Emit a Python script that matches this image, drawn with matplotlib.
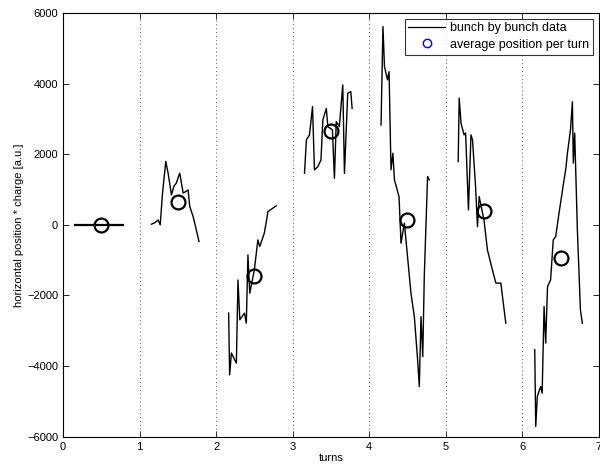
import matplotlib
matplotlib.use('Agg')
import matplotlib.pyplot as plt
from matplotlib.lines import Line2D

plt.rcParams['font.family'] = ['Liberation Sans', 'DejaVu Sans']
plt.rcParams['font.size'] = 8

# bunch by bunch data, one segment per turn
turn0_x = [0.16, 0.78]
turn0_y = [0, 0]
turn1_x = [1.156, 1.20, 1.243, 1.27, 1.30, 1.343, 1.373, 1.417, 1.45, 1.48, 1.525, 1.57, 1.634, 1.656, 1.70, 1.777]
turn1_y = [20, 60, 140, 0, 900, 1795, 1465, 850, 1100, 1180, 1465, 900, 990, 520, 235, -470]
turn2_x = [2.164, 2.177, 2.20, 2.265, 2.286, 2.31, 2.37, 2.395, 2.416, 2.44, 2.50, 2.546, 2.57, 2.63, 2.66, 2.677, 2.786]
turn2_y = [-2500, -4250, -3630, -3920, -1560, -2690, -2500, -2785, -850, -1935, -1275, -425, -615, -235, 140, 377, 540]
turn3_x = [3.155, 3.18, 3.22, 3.26, 3.285, 3.33, 3.37, 3.395, 3.44, 3.46, 3.52, 3.546, 3.57, 3.61, 3.655, 3.677, 3.72, 3.76, 3.777]
turn3_y = [1460, 2410, 2550, 3350, 1560, 1650, 1840, 2975, 3300, 2785, 2690, 1320, 2925, 2785, 3965, 1460, 3730, 3775, 3300]
turn4_x = [4.155, 4.18, 4.20, 4.24, 4.26, 4.285, 4.31, 4.33, 4.39, 4.416, 4.46, 4.546, 4.59, 4.63, 4.655, 4.677, 4.70, 4.72, 4.763, 4.785]
turn4_y = [2830, 5620, 4480, 4110, 4340, 1560, 2030, 1275, 800, -520, 50, -1935, -2600, -3730, -4580, -2600, -3730, -1460, 1370, 1275]
turn5_x = [5.163, 5.176, 5.20, 5.24, 5.26, 5.297, 5.33, 5.35, 5.39, 5.415, 5.437, 5.50, 5.545, 5.61, 5.655, 5.72, 5.785]
turn5_y = [1795, 3590, 2880, 2550, 2600, 425, 2550, 2410, 1085, -50, 800, 140, -710, -1275, -1650, -1650, -2785]
turn6_x = [6.163, 6.176, 6.197, 6.24, 6.26, 6.285, 6.306, 6.33, 6.37, 6.405, 6.437, 6.48, 6.52, 6.546, 6.57, 6.59, 6.63, 6.655, 6.667, 6.685, 6.72, 6.76, 6.785]
turn6_y = [-3540, -5710, -4860, -4580, -4770, -2310, -3350, -1750, -1560, -425, -330, 330, 900, 1275, 1605, 2030, 2690, 3490, 1750, 2600, -140, -2410, -2785]

# average position per turn
avg_x = [0.5, 1.5, 2.5, 3.5, 4.5, 5.5, 6.5]
avg_y = [0, 650, -1450, 2650, 150, 380, -950]

turn_bounds = [1, 2, 3, 4, 5, 6]

segments = [(turn0_x, turn0_y), (turn1_x, turn1_y), (turn2_x, turn2_y), (turn3_x, turn3_y),
            (turn4_x, turn4_y), (turn5_x, turn5_y), (turn6_x, turn6_y)]

fig = plt.figure(figsize=(6, 4.68), dpi=100)
ax = fig.add_axes([0.105, 0.067, 0.893, 0.905])

for i, (sx, sy) in enumerate(segments):
    lw = 1.6 if i == 0 else 1.0
    ax.plot(sx, sy, color='black', linewidth=lw)

ax.plot(avg_x, avg_y, linestyle='none', marker='o', markersize=10,
        markerfacecolor='none', markeredgecolor='black', markeredgewidth=1.6)

for b in turn_bounds:
    ax.axvline(b, color='#555555', linestyle=(0, (1, 3)), linewidth=0.7)

ax.set_xlim(0, 7)
ax.set_ylim(-6000, 6000)
ax.set_xticks(range(0, 8))
ax.set_yticks(range(-6000, 6001, 2000))
ax.tick_params(direction='in', top=True, right=True, length=4, width=0.6, labelsize=8)
for s in ax.spines.values():
    s.set_linewidth(0.8)

ax.set_xlabel('turns', fontsize=8, labelpad=1)
ax.set_ylabel('horizontal position * charge [a.u.]', fontsize=8, labelpad=2)

handles = [Line2D([], [], color='black', linewidth=0.9),
           Line2D([], [], linestyle='none', marker='o', markersize=6,
                  markerfacecolor='none', markeredgecolor='blue', markeredgewidth=1.0)]
leg = ax.legend(handles, ['bunch by bunch data', 'average position per turn'],
                loc='upper right', fontsize=9, frameon=True, fancybox=False,
                borderaxespad=0.45, handlelength=2.9, handletextpad=0.45,
                borderpad=0.3, labelspacing=0.35)
leg.get_frame().set_edgecolor('black')
leg.get_frame().set_linewidth(0.8)

fig.savefig('out.png', dpi=100)
